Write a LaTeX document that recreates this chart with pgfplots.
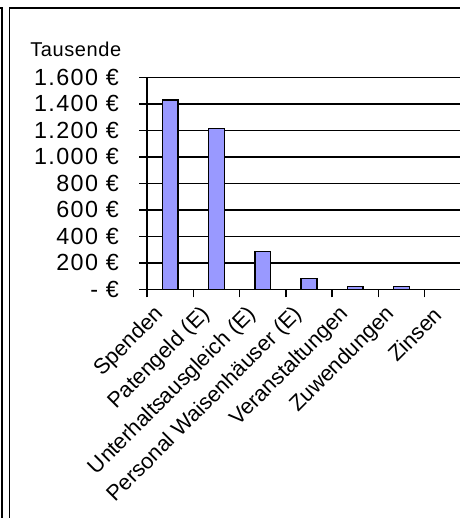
\documentclass[border=0pt]{standalone}
\usepackage{fontspec}
\setmainfont{Liberation Sans}
\newfontfamily\tickfont[LetterSpace=6]{Liberation Sans}
\newfontfamily\titlefont[LetterSpace=3]{Liberation Sans}
\usepackage{pgfplots}
\pgfplotsset{compat=1.18}
\definecolor{barblue}{RGB}{153,153,255}
\begin{document}
\begin{tikzpicture}
% 1 px of the reference = 0.75pt
\path[use as bounding box, clip] (0pt,0pt) rectangle (345pt,388.5pt);
\fill[white] (0pt,0pt) rectangle (345pt,388.5pt);
% frame lines of the cut-out
\draw[line width=1.3pt] (1.7pt,-5pt) -- (1.7pt,382.5pt) -- (-5pt,382.5pt);
\draw[line width=1.3pt] (7.1pt,-5pt) -- (7.1pt,382.5pt) -- (350pt,382.5pt);
\node[anchor=west, inner sep=0pt, font=\titlefont\fontsize{15}{17}\selectfont] at (22.5pt,351.8pt) {Tausende};
\begin{axis}[
  at={(110.25pt,171.5pt)}, anchor=south west, scale only axis,
  width=243pt, height=159pt,
  xmin=0, xmax=7, ymin=0, ymax=1600,
  axis x line*=bottom, axis y line*=left,
  axis line style={black, line width=1.1pt, -},
  xtick={0,...,7}, x tick label as interval,
  xticklabels={Spenden, Patengeld (E), Unterhaltsausgleich (E), Personal Waisenhäuser (E), Veranstaltungen, Zuwendungen, Zinsen},
  xticklabel style={xshift=-5pt, yshift=-8pt, rotate=45, anchor=east, font=\fontsize{16.3}{18}\selectfont},
  ytick={0,200,...,1600},
  yticklabels={- €, 200 €, 400 €, 600 €, 800 €, 1.000 €, 1.200 €, 1.400 €, 1.600 €},
  yticklabel style={font=\tickfont\fontsize{17.5}{19}\selectfont, xshift=-11.5pt},
  ymajorgrids, grid style={black, line width=1.1pt},
  tick align=outside, major tick length=6pt,
  tick style={black, line width=1.1pt},
  ybar, bar width=11.8pt,
]
\addplot[fill=barblue, draw=black, line width=1pt] coordinates {(0.5,1428) (1.5,1212) (2.5,287) (3.5,83) (4.5,23) (5.5,23) (6.5,0)};
\end{axis}
\end{tikzpicture}
\end{document}
